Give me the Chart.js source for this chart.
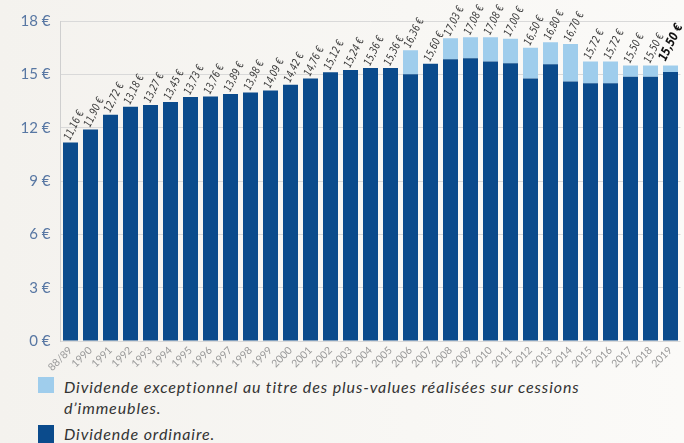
<!DOCTYPE html>
<html>
<head>
<meta charset="utf-8">
<script src="https://cdn.jsdelivr.net/npm/chart.js@4.4.1/dist/chart.umd.min.js"></script>
<style>
  html, body { margin: 0; padding: 0; }
  body {
    width: 684px; height: 443px; overflow: hidden; position: relative;
    background: linear-gradient(90deg, #f4f2ee 0%, #f8f7f4 60%, #fbfaf8 100%);
  }
  #wrap { position: absolute; left: 0; top: 0; width: 684px; height: 372px; }
  .sw { position: absolute; left: 38px; width: 16px; height: 16px; }
  .txt {
    position: absolute; left: 64px; width: 620px; white-space: nowrap;
    font: italic 16px Lato, "Open Sans", sans-serif; letter-spacing: 0.9px;
    line-height: 21px; color: #333;
  }
</style>
</head>
<body>
<div id="wrap"><canvas id="divChart" width="684" height="372"></canvas></div>

<div class="sw" style="top:377px;background:#9fcdec"></div>
<div class="txt" style="top:376px">Dividende exceptionnel au titre des plus-values réalisées sur cessions<br>d’immeubles.</div>
<div class="sw" style="top:425px;height:18px;background:#0b4b8c"></div>
<div class="txt" style="top:423px">Dividende ordinaire.</div>

<script>
/* ── DIVIDENDE PAR PART ── */

// 1. Données
const years = ["88/89", "1990", "1991", "1992", "1993", "1994", "1995", "1996", "1997", "1998",
    "1999", "2000", "2001", "2002", "2003", "2004", "2005", "2006", "2007", "2008",
    "2009", "2010", "2011", "2012", "2013", "2014", "2015", "2016", "2017", "2018", "2019"];

const ordinaire = [11.16, 11.90, 12.72, 13.18, 13.27, 13.45, 13.73, 13.76, 13.89, 13.98,
    14.09, 14.42, 14.76, 15.12, 15.24, 15.36, 15.36, 15.00, 15.60, 15.85,
    15.90, 15.72, 15.63, 14.77, 15.57, 14.60, 14.50, 14.50, 14.86, 14.86, 15.13];

const exceptionnel = [0, 0, 0, 0, 0, 0, 0, 0, 0, 0,
    0, 0, 0, 0, 0, 0, 0, 1.36, 0, 1.18,
    1.18, 1.36, 1.37, 1.73, 1.23, 2.10, 1.22, 1.22, 0.64, 0.64, 0.37];

const totalLabels = ["11,16 €", "11,90 €", "12,72 €", "13,18 €", "13,27 €", "13,45 €", "13,73 €", "13,76 €", "13,89 €", "13,98 €",
    "14,09 €", "14,42 €", "14,76 €", "15,12 €", "15,24 €", "15,36 €", "15,36 €", "16,36 €", "15,60 €", "17,03 €",
    "17,08 €", "17,08 €", "17,00 €", "16,50 €", "16,80 €", "16,70 €", "15,72 €", "15,72 €", "15,50 €", "15,50 €", "15,50 €"];

const yTicks = [0, 3, 6, 9, 12, 15, 18];

// 2. Étiquettes au-dessus des barres
const totalsPlugin = {
    id: "totals",
    afterDatasetsDraw(chart) {
        const ctx = chart.ctx;
        const meta = chart.getDatasetMeta(1);
        meta.data.forEach((bar, i) => {
            const last = i === meta.data.length - 1;
            ctx.save();
            if (last) ctx.translate(bar.x - 8, bar.y - 5);
            else ctx.translate(bar.x - 3, bar.y - 3);
            ctx.rotate(-64 * Math.PI / 180);
            ctx.scale(0.84, 1); // police condensée
            ctx.font = last
                ? 'italic bold 12.5px "Liberation Sans Narrow", "DejaVu Sans Condensed", sans-serif'
                : 'italic 11px "Liberation Sans Narrow", "DejaVu Sans Condensed", sans-serif';
            ctx.fillStyle = last ? "#111" : "#3a3a3a";
            ctx.textAlign = "left";
            ctx.textBaseline = "middle";
            ctx.fillText(totalLabels[i], 0, 0);
            ctx.restore();
        });
    },
};

// 3. Graphique
const ctx = document.getElementById("divChart").getContext("2d");
const divChart = new Chart(ctx, {
    type: "bar",
    data: {
        labels: years,
        datasets: [
            {
                label: "Dividende ordinaire.",
                data: ordinaire,
                backgroundColor: "#0b4b8c",
                barPercentage: 0.75,
                categoryPercentage: 1,
            },
            {
                label: "Dividende exceptionnel au titre des plus-values réalisées sur cessions d'immeubles.",
                data: exceptionnel,
                backgroundColor: "#9fcdec",
                barPercentage: 0.75,
                categoryPercentage: 1,
            },
        ],
    },
    options: {
        responsive: false,
        animation: false,
        layout: { padding: { top: 21, right: 3.5, left: 0, bottom: 0 } },
        scales: {
            x: {
                stacked: true,
                grid: { display: false, drawTicks: false },
                border: { display: false },
                ticks: {
                    color: "#9a9a9a",
                    font: { family: "Lato", size: 10.5 },
                    maxRotation: 45,
                    minRotation: 45,
                    padding: 3,
                    autoSkip: false,
                },
                afterFit: (s) => { s.height = 31; },
            },
            y: {
                stacked: true,
                min: 0,
                max: 18,
                afterBuildTicks: (s) => { s.ticks = yTicks.map((v) => ({ value: v })); },
                grid: { color: "#d9d9d9", drawTicks: false },
                border: { display: true, color: "#cfcfcf" },
                ticks: {
                    color: "#5877a3",
                    font: { family: "Lato", size: 15 },
                    padding: 10,
                    callback: (v) => v + " €",
                },
                afterFit: (s) => { s.width = 60.5; },
            },
        },
        plugins: {
            legend: { display: false },
            tooltip: { enabled: false },
        },
    },
    plugins: [totalsPlugin],
});
</script>
</body>
</html>
